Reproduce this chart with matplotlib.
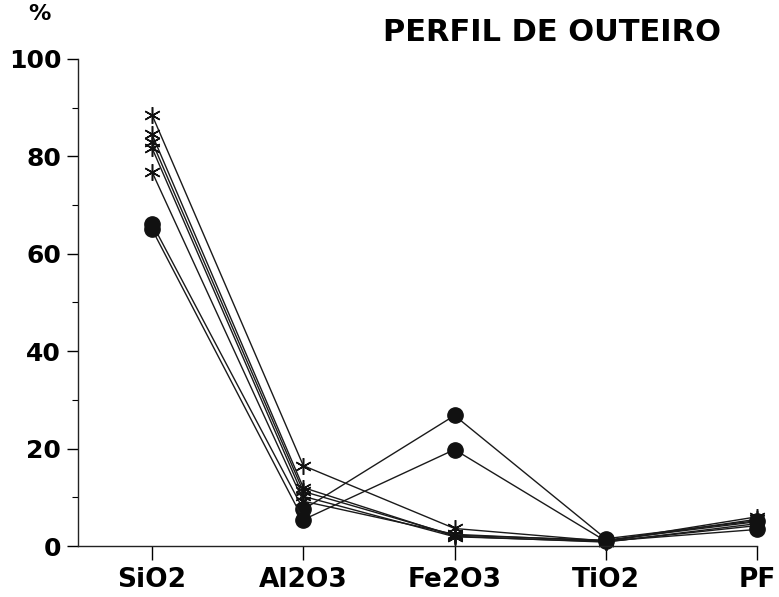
"""
plot.py - Perfil de Outeiro: major oxide composition profile
"""

import matplotlib
import matplotlib.pyplot as plt
import matplotlib.ticker as mticker

matplotlib.use("Agg")

OXIDES = ["SiO2", "Al2O3", "Fe2O3", "TiO2", "PF"]

# samples plotted with asterisk markers
STAR_SAMPLES = [
    [88.5, 16.5, 3.6, 1.0, 5.5],
    [84.5, 12.0, 2.0, 0.8, 4.6],
    [83.0, 11.2, 2.2, 1.2, 5.0],
    [81.7, 10.2, 1.9, 0.9, 4.2],
    [76.8, 9.2, 2.4, 1.0, 6.0],
]

# samples plotted with filled circles
CIRCLE_SAMPLES = [
    [66.2, 7.5, 26.8, 1.5, 5.2],
    [65.0, 5.4, 19.8, 1.0, 3.4],
]

Y_TICKS = [0, 20, 40, 60, 80, 100]


def main():
    plt.rcParams["font.family"] = ["DejaVu Sans"]
    fig = plt.figure(figsize=(7.79, 5.97), dpi=100)
    ax = fig.add_axes([0.1001, 0.0854, 0.8717, 0.8158])

    x = list(range(len(OXIDES)))
    for row in STAR_SAMPLES:
        ax.plot(x, row, color="#1a1a1a", linewidth=1.0,
                marker=(6, 2, 0), markersize=12, markeredgewidth=1.1,
                markeredgecolor="#111111", clip_on=False)
    for row in CIRCLE_SAMPLES:
        ax.plot(x, row, color="#1a1a1a", linewidth=1.0,
                marker="o", markersize=11, markerfacecolor="#111111",
                markeredgecolor="#111111", clip_on=False)

    ax.set_xlim(-0.49, 4.0)
    ax.set_ylim(0, 100)
    ax.set_xticks(x)
    ax.set_xticklabels(OXIDES, fontsize=19, fontweight="bold")
    ax.set_yticks(Y_TICKS)
    ax.set_yticklabels([str(v) for v in Y_TICKS], fontsize=18, fontweight="bold")
    ax.yaxis.set_minor_locator(mticker.MultipleLocator(10))

    ax.spines["top"].set_visible(False)
    ax.spines["right"].set_visible(False)
    for side in ("left", "bottom"):
        ax.spines[side].set_linewidth(1.0)
        ax.spines[side].set_color("#222222")

    ax.tick_params(axis="y", which="major", direction="out", length=8, width=1.0, pad=4)
    ax.tick_params(axis="y", which="minor", direction="out", length=4, width=0.8)
    ax.tick_params(axis="x", direction="out", length=10, width=1.0, pad=5)

    fig.text(0.050, 0.994, "%", fontsize=16, fontweight="bold", ha="center", va="top")
    fig.text(0.709, 0.945, "PERFIL DE OUTEIRO", fontsize=22, fontweight="bold",
             ha="center", va="center")

    fig.savefig("out.png", dpi=100)
    plt.close(fig)


if __name__ == "__main__":
    main()
